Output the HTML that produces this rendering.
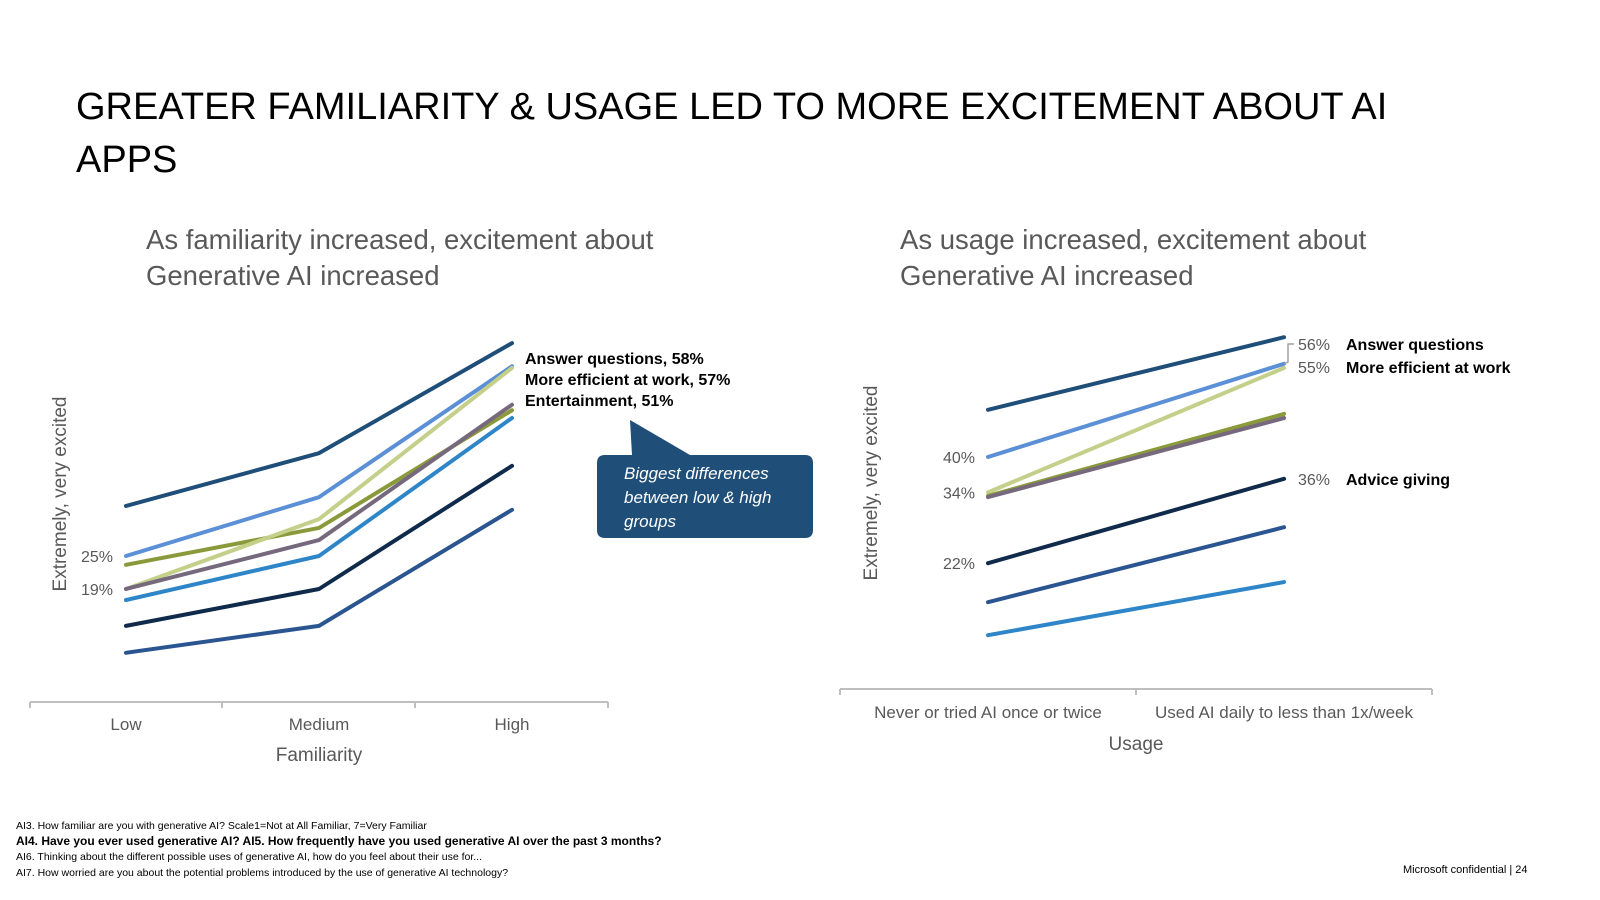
<!DOCTYPE html>
<html><head><meta charset="utf-8">
<style>
html,body{margin:0;padding:0;width:1600px;height:900px;background:#fff;overflow:hidden;font-family:"Liberation Sans",sans-serif}
svg{position:absolute;left:0;top:0;display:block}
</style></head>
<body>
<svg width="1600" height="900" font-family="Liberation Sans, sans-serif">
<text x="76" y="119" font-size="38" fill="#000">GREATER FAMILIARITY &amp; USAGE LED TO MORE EXCITEMENT ABOUT AI</text>
<text x="76" y="172" font-size="38" fill="#000">APPS</text>
<text x="146" y="249" font-size="27.5" fill="#595959">As familiarity increased, excitement about</text>
<text x="146" y="285" font-size="27.5" fill="#595959">Generative AI increased</text>
<text x="900" y="249" font-size="27.5" fill="#595959">As usage increased, excitement about</text>
<text x="900" y="285" font-size="27.5" fill="#595959">Generative AI increased</text>

<g id="left"></g>
<g id="right"></g>

<g>
<path d="M630,420 L690,455 L805,455 Q813,455 813,463 L813,530 Q813,538 805,538 L605,538 Q597,538 597,530 L597,463 Q597,455 605,455 L632,455 Z" fill="#1f4e79"/>
<text x="624" y="479" font-size="17" font-style="italic" fill="#fff">Biggest differences</text>
<text x="624" y="503" font-size="17" font-style="italic" fill="#fff">between low &amp; high</text>
<text x="624" y="527" font-size="17" font-style="italic" fill="#fff">groups</text>
</g>

<g font-size="10.5" fill="#000">
<text x="16" y="829">AI3. How familiar are you with generative AI?   Scale1=Not at All Familiar, 7=Very Familiar</text>
<text x="16" y="845" font-size="12" font-weight="bold">AI4. Have you ever used generative AI?   AI5. How frequently have you used generative AI over the past 3 months?</text>
<text x="16" y="860">AI6. Thinking about the different possible uses of generative AI, how do you feel about their use for...</text>
<text x="16" y="876">AI7. How worried are you about the potential problems introduced by the use of generative AI technology?</text>
<text x="1403" y="873" font-size="11">Microsoft confidential  |  24</text>
</g>
</svg>
<script>
const famColors=['#1f4e79','#5b8fd6','#8a9a3a','#c4cf8a','#76697d','#2e86c8','#0f2a4a','#2a5591'];
const useColors=['#1f4e79','#5b8fd6','#c4cf8a','#8a9a3a','#76697d','#0f2a4a','#2a5591','#2e86c8'];
const famCats=['Low','Medium','High'];
const famNavy=[34.1,43.7,63.7];
const famLightBlue=[25,35.7,59.5];
const famOlive=[23.4,30.1,51.5];
const famLightGreen=[19,31.7,59.2];
const famGray=[19,27.9,52.5];
const famBlue=[17,25,50.1];
const famDark=[12.3,19,41.4];
const famMid=[7.4,12.3,33.4];
const famLabels=['25%','19%'];
const famLabelValues=[25,19];
const useCats=['Never or tried AI once or twice','Used AI daily to less than 1x/week'];
const useNavy=[48,60.3];
const useLightBlue=[40,55.8];
const useLightGreen=[34,55.1];
const useOlive=[33.4,47.3];
const useGray=[33.2,46.6];
const useDark=[22,36.3];
const useMid=[15.4,28.1];
const useBlue=[9.8,18.8];
const useLabels=['40%','34%','22%'];
const useLabelValues=[40,34,22];

const NS='http://www.w3.org/2000/svg';
function mk(parent,tag,attrs,txt){const e=document.createElementNS(NS,tag);for(const k in attrs)e.setAttribute(k,attrs[k]);if(txt!==undefined)e.textContent=txt;parent.appendChild(e);return e;}

function chart(g,cats,series,colors,xs,y0,k,axisY,axisX0,axisX1,ticks,titleText,titleX,titleY,yTitleX,yTitleY,labs,labVals,labX,catY){
  const yS=v=>y0-v*k;
  const xS=i=>xs[0]+i*(xs[1]-xs[0])/(cats.length-1);
  const ax=mk(g,'line',{x1:axisX0,x2:axisX1,y1:axisY,y2:axisY,stroke:'#bfbfbf','stroke-width':2});
  
  
  ticks.forEach(t=>{const l=mk(g,'line',{x1:t,x2:t,y1:axisY,y2:axisY+6,stroke:'#bfbfbf','stroke-width':2});
    
    });
  cats.forEach((c,i)=>{const t=mk(g,'text',{x:xS(i),y:catY,'font-size':17,fill:'#595959','text-anchor':'middle'},c);
    
    });
  const tt=mk(g,'text',{x:titleX,y:titleY,'font-size':19,fill:'#595959','text-anchor':'middle'},titleText);
  
  
  const yt=mk(g,'text',{x:0,y:0,'font-size':19,fill:'#595959','text-anchor':'middle',transform:`translate(${yTitleX},${yTitleY}) rotate(-90)`},'Extremely, very excited');
  
  
  labs.forEach((s,i)=>{const t=mk(g,'text',{x:labX,y:yS(labVals[i])+6,'font-size':16,fill:'#595959','text-anchor':'end'},s);
    
    });
  series.forEach((vals,si)=>{
    const pts=vals.map((v,i)=>xS(i)+','+yS(v)).join(' ');
    const p=mk(g,'polyline',{points:pts,fill:'none',stroke:colors[si],'stroke-width':4,'stroke-linejoin':'round','stroke-linecap':'round'});
    
    
  });
  return yS;
}
const L=document.getElementById('left');
chart(L,famCats,[famNavy,famLightBlue,famOlive,famLightGreen,famGray,famBlue,famDark,famMid],famColors,[126,512],693.5,5.5,702,30,608,[30,222,415,608],'Familiarity',319,761,66,494,famLabels,famLabelValues,113,730);
[['Answer questions, 58%',364],['More efficient at work, 57%',385],['Entertainment, 51%',406]].forEach(a=>{
  const t=mk(L,'text',{x:525,y:a[1],'font-size':16,'font-weight':'bold',fill:'#000'},a[0]);
  
  });
const R=document.getElementById('right');
chart(R,useCats,[useNavy,useLightBlue,useLightGreen,useOlive,useGray,useDark,useMid,useBlue],useColors,[988,1284],693,5.9,689,840,1432,[840,1136,1432],'Usage',1136,750,877,483,useLabels,useLabelValues,975,718);
const con=mk(R,'polyline',{points:'1294,344 1288,344 1288,362 1284,364',fill:'none',stroke:'#a0a0a0','stroke-width':1.5});


[['56%','Answer questions',350],['55%','More efficient at work',373],['36%','Advice giving',485]].forEach(a=>{
  const v=mk(R,'text',{x:1298,y:a[2],'font-size':16,fill:'#595959'},a[0]);
  
  
  const t=mk(R,'text',{x:1346,y:a[2],'font-size':16,'font-weight':'bold',fill:'#000'},a[1]);
  
  });
</script>
</body></html>
